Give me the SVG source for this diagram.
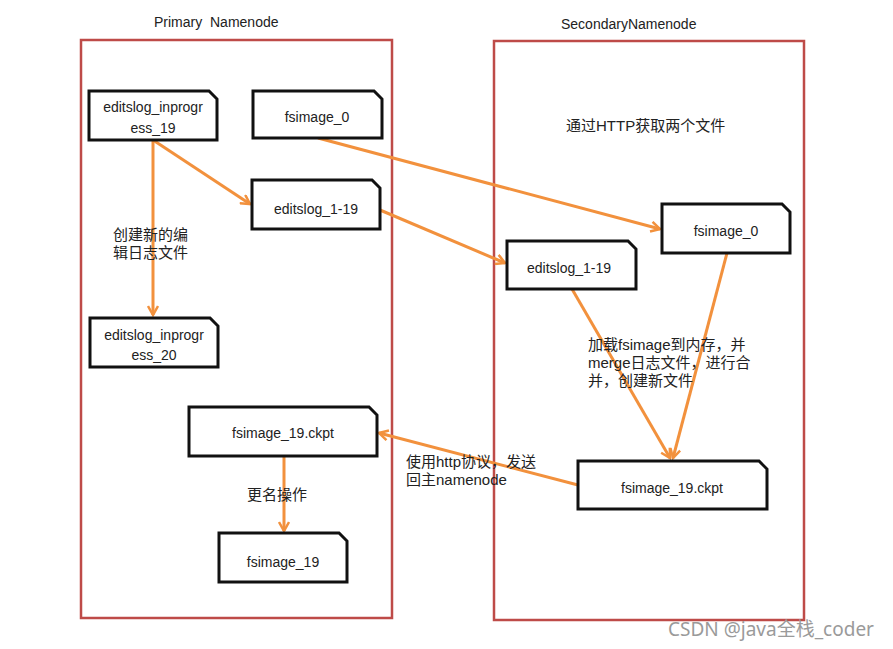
<svg xmlns="http://www.w3.org/2000/svg" width="893" height="649" viewBox="0 0 893 649">
<style>
.bg{fill:#ffffff}
.cont{fill:none;stroke:#BE4B48;stroke-width:2.5}
.doc{fill:#ffffff;stroke:#111111;stroke-width:3;stroke-linejoin:miter}
.t{font-family:"Liberation Sans","Noto Sans CJK SC",sans-serif;font-size:14px;fill:#222222;white-space:pre}
.nt{font-family:"Liberation Sans","Noto Sans CJK SC",sans-serif;font-size:14px;fill:#222222;text-anchor:middle}
.lb{font-family:"Liberation Sans","Noto Sans CJK SC",sans-serif;font-size:15px;fill:#222222}
.wm{font-family:"Noto Sans","Noto Sans CJK SC",sans-serif;font-size:19px;fill:#9a9a9a}
.c{fill:none;stroke:#F2913D;stroke-width:3}
</style>
<defs>
<marker id="ah" viewBox="0 0 12 12" refX="10" refY="6" markerWidth="12" markerHeight="12" markerUnits="userSpaceOnUse" orient="auto">
<path d="M1,1 L10,6 L1,11" fill="none" stroke="#F2913D" stroke-width="2.5"/>
</marker>
</defs>
<rect class="bg" x="0" y="0" width="893" height="649"/>
<g id="primary">
<rect class="cont" x="81" y="40" width="311" height="578"/>
<text class="t" x="154" y="27" xml:space="preserve">Primary  Namenode</text>
</g>
<g id="secondary">
<rect class="cont" x="494" y="41" width="310" height="579"/>
<text class="t" x="561" y="29">SecondaryNamenode</text>
</g>
<g id="connectors">
<line class="c" x1="153" y1="140" x2="153" y2="315" marker-end="url(#ah)"/>
<line class="c" x1="153" y1="140" x2="250" y2="204" marker-end="url(#ah)"/>
<line class="c" x1="318" y1="138" x2="660" y2="229" marker-end="url(#ah)"/>
<line class="c" x1="380" y1="210" x2="505" y2="263" marker-end="url(#ah)"/>
<line class="c" x1="572" y1="289" x2="670" y2="458" marker-end="url(#ah)"/>
<line class="c" x1="727" y1="253" x2="673" y2="458" marker-end="url(#ah)"/>
<line class="c" x1="578" y1="485" x2="379" y2="433" marker-end="url(#ah)"/>
<line class="c" x1="284" y1="456" x2="284" y2="531" marker-end="url(#ah)"/>
</g>
<g id="n-editslog-inprogress-19">
<path class="doc" d="M89,91 H209 L217,99 V140 H89 Z"/>
<text class="nt" x="153" y="112">editslog_inprogr</text>
<text class="nt" x="153" y="133">ess_19</text>
</g>
<g id="n-fsimage-0-left">
<path class="doc" d="M253,91 H374 L382,99 V138 H253 Z"/>
<text class="nt" x="317" y="122">fsimage_0</text>
</g>
<g id="n-editslog-1-19-left">
<path class="doc" d="M252,180 H372 L380,188 V229 H252 Z"/>
<text class="nt" x="316" y="214">editslog_1-19</text>
</g>
<g id="n-editslog-inprogress-20">
<path class="doc" d="M90,318 H210 L218,326 V367 H90 Z"/>
<text class="nt" x="154" y="340">editslog_inprogr</text>
<text class="nt" x="154" y="360">ess_20</text>
</g>
<g id="n-fsimage-19-ckpt-left">
<path class="doc" d="M189,407 H369 L377,415 V456 H189 Z"/>
<text class="nt" x="283" y="438">fsimage_19.ckpt</text>
</g>
<g id="n-fsimage-19">
<path class="doc" d="M219,533 H339 L347,541 V582 H219 Z"/>
<text class="nt" x="283" y="567">fsimage_19</text>
</g>
<g id="n-fsimage-0-right">
<path class="doc" d="M662,204 H782 L790,212 V253 H662 Z"/>
<text class="nt" x="726" y="236">fsimage_0</text>
</g>
<g id="n-editslog-1-19-right">
<path class="doc" d="M507,241 H628 L636,249 V289 H507 Z"/>
<text class="nt" x="569" y="273">editslog_1-19</text>
</g>
<g id="n-fsimage-19-ckpt-right">
<path class="doc" d="M578,461 H759 L767,469 V509 H578 Z"/>
<text class="nt" x="672" y="493">fsimage_19.ckpt</text>
</g>
<g id="labels">
<text class="lb" x="113" y="240">创建新的编</text>
<text class="lb" x="113" y="258">辑日志文件</text>
<text class="lb" x="566" y="131">通过HTTP获取两个文件</text>
<text class="lb" x="588" y="350">加载fsimage到内存，并</text>
<text class="lb" x="588" y="368">merge日志文件，进行合</text>
<text class="lb" x="588" y="386">并，创建新文件</text>
<text class="lb" x="406" y="467">使用http协议，发送</text>
<text class="lb" x="406" y="485">回主namenode</text>
<text class="lb" x="247" y="500">更名操作</text>
</g>
<text class="wm" x="668" y="636">CSDN @java全栈_coder</text>
</svg>
